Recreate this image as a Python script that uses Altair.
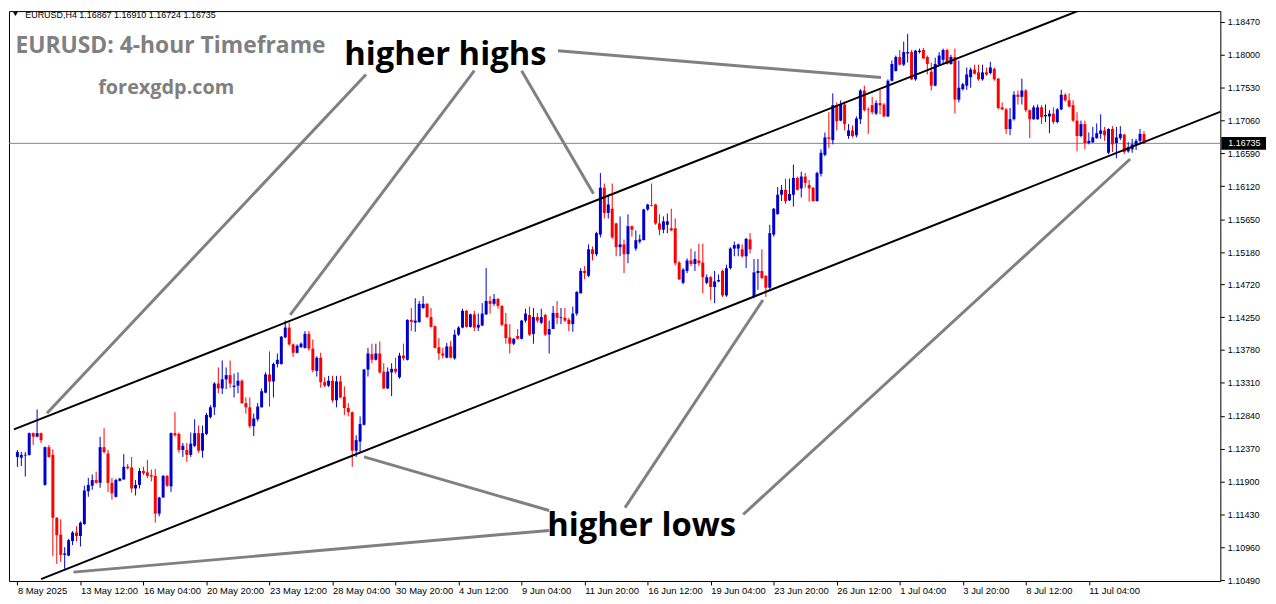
import json
import altair as alt
import pandas as pd

# ---------------- data (EURUSD H4 candles) ----------------
opens = [
    1.1225, 1.1224, 1.1227, 1.1228, 1.1259, 1.1254, 1.1259, 1.1185, 1.1239, 1.1228,
    1.1138, 1.1114, 1.1085, 1.1084, 1.1105, 1.1117, 1.1112, 1.1129, 1.1176, 1.1184,
    1.1192, 1.1188, 1.1239, 1.1230, 1.1188, 1.1168, 1.1191, 1.1193, 1.1211, 1.1210,
    1.1180, 1.1185, 1.1205, 1.1203, 1.1199, 1.1198, 1.1144, 1.1167, 1.1198, 1.1183,
    1.1259, 1.1258, 1.1235, 1.1235, 1.1228, 1.1241, 1.1259, 1.1234, 1.1258, 1.1282,
    1.1296, 1.1330, 1.1323, 1.1336, 1.1342, 1.1325, 1.1327, 1.1334, 1.1302, 1.1296,
    1.1269, 1.1279, 1.1296, 1.1317, 1.1343, 1.1333, 1.1358, 1.1358, 1.1396, 1.1410,
    1.1386, 1.1374, 1.1382, 1.1381, 1.1401, 1.1380, 1.1348, 1.1367, 1.1332, 1.1327,
    1.1334, 1.1306, 1.1333, 1.1311, 1.1295, 1.1289, 1.1234, 1.1247, 1.1271, 1.1350,
    1.1372, 1.1364, 1.1373, 1.1347, 1.1323, 1.1346, 1.1351, 1.1339, 1.1370, 1.1364,
    1.1421, 1.1417, 1.1418, 1.1438, 1.1444, 1.1425, 1.1412, 1.1382, 1.1373, 1.1367,
    1.1383, 1.1366, 1.1400, 1.1410, 1.1434, 1.1411, 1.1429, 1.1410, 1.1413, 1.1429,
    1.1448, 1.1444, 1.1451, 1.1441, 1.1415, 1.1396, 1.1387, 1.1398, 1.1394, 1.1420,
    1.1428, 1.1401, 1.1425, 1.1417, 1.1428, 1.1400, 1.1408, 1.1431, 1.1424, 1.1424,
    1.1421, 1.1415, 1.1430, 1.1459, 1.1491, 1.1484, 1.1522, 1.1515, 1.1543, 1.1610,
    1.1574, 1.1580, 1.1559, 1.1525, 1.1529, 1.1515, 1.1555, 1.1523, 1.1533, 1.1535,
    1.1579, 1.1585, 1.1586, 1.1559, 1.1550, 1.1557, 1.1552, 1.1552, 1.1503, 1.1474,
    1.1491, 1.1506, 1.1501, 1.1506, 1.1503, 1.1474, 1.1482, 1.1468, 1.1476, 1.1491,
    1.1456, 1.1495, 1.1523, 1.1523, 1.1522, 1.1512, 1.1536, 1.1455, 1.1488, 1.1491,
    1.1484, 1.1467, 1.1543, 1.1572, 1.1600, 1.1607, 1.1592, 1.1600, 1.1624, 1.1609,
    1.1626, 1.1614, 1.1610, 1.1591, 1.1630, 1.1657, 1.1682, 1.1678, 1.1728, 1.1706,
    1.1729, 1.1684, 1.1692, 1.1685, 1.1708, 1.1749, 1.1722, 1.1728, 1.1716, 1.1731,
    1.1729, 1.1712, 1.1763, 1.1777, 1.1797, 1.1786, 1.1802, 1.1804, 1.1765, 1.1804,
    1.1807, 1.1797, 1.1776, 1.1756, 1.1786, 1.1793, 1.1807, 1.1787, 1.1797, 1.1736,
    1.1751, 1.1756, 1.1768, 1.1779, 1.1775, 1.1765, 1.1775, 1.1774, 1.1780, 1.1766,
    1.1725, 1.1722, 1.1694, 1.1708, 1.1743, 1.1740, 1.1749, 1.1721, 1.1708, 1.1708,
    1.1725, 1.1712, 1.1712, 1.1716, 1.1704, 1.1722, 1.1743, 1.1735, 1.1728, 1.1706,
    1.1684, 1.1701, 1.1674, 1.1675, 1.1681, 1.1687, 1.1692, 1.1660, 1.1694, 1.1674,
    1.1681, 1.1686, 1.1662, 1.1665, 1.1671, 1.1677, 1.16867,
]
highs = [
    1.1235, 1.1232, 1.1232, 1.1260, 1.1260, 1.1293, 1.1260, 1.1240, 1.1242, 1.1236,
    1.1139, 1.1136, 1.1096, 1.1108, 1.1119, 1.1126, 1.1133, 1.1184, 1.1195, 1.1200,
    1.1204, 1.1254, 1.1266, 1.1235, 1.1195, 1.1194, 1.1195, 1.1229, 1.1215, 1.1225,
    1.1192, 1.1209, 1.1211, 1.1221, 1.1207, 1.1208, 1.1168, 1.1199, 1.1199, 1.1260,
    1.1289, 1.1260, 1.1245, 1.1245, 1.1260, 1.1279, 1.1270, 1.1270, 1.1288, 1.1299,
    1.1332, 1.1353, 1.1363, 1.1353, 1.1363, 1.1344, 1.1346, 1.1336, 1.1310, 1.1310,
    1.1287, 1.1302, 1.1323, 1.1346, 1.1376, 1.1360, 1.1373, 1.1398, 1.1420, 1.1417,
    1.1387, 1.1386, 1.1389, 1.1405, 1.1405, 1.1393, 1.1369, 1.1374, 1.1339, 1.1341,
    1.1341, 1.1341, 1.1341, 1.1326, 1.1302, 1.1290, 1.1256, 1.1283, 1.1351, 1.1381,
    1.1387, 1.1387, 1.1390, 1.1359, 1.1353, 1.1359, 1.1367, 1.1374, 1.1387, 1.1422,
    1.1438, 1.1452, 1.1448, 1.1455, 1.1445, 1.1438, 1.1413, 1.1395, 1.1381, 1.1388,
    1.1391, 1.1407, 1.1412, 1.1437, 1.1435, 1.1430, 1.1434, 1.1430, 1.1445, 1.1495,
    1.1455, 1.1458, 1.1452, 1.1442, 1.1431, 1.1415, 1.1395, 1.1408, 1.1421, 1.1437,
    1.1440, 1.1438, 1.1431, 1.1437, 1.1430, 1.1420, 1.1441, 1.1448, 1.1438, 1.1438,
    1.1424, 1.1440, 1.1462, 1.1495, 1.1498, 1.1529, 1.1526, 1.1547, 1.1631, 1.1616,
    1.1600, 1.1616, 1.1560, 1.1569, 1.1536, 1.1572, 1.1556, 1.1549, 1.1543, 1.1580,
    1.1587, 1.1616, 1.1587, 1.1572, 1.1569, 1.1573, 1.1580, 1.1566, 1.1505, 1.1495,
    1.1509, 1.1523, 1.1519, 1.1530, 1.1530, 1.1486, 1.1484, 1.1491, 1.1486, 1.1493,
    1.1500, 1.1525, 1.1533, 1.1530, 1.1529, 1.1538, 1.1545, 1.1508, 1.1508, 1.1522,
    1.1485, 1.1557, 1.1581, 1.1611, 1.1614, 1.1623, 1.1623, 1.1643, 1.1626, 1.1633,
    1.1631, 1.1621, 1.1611, 1.1633, 1.1665, 1.1689, 1.1718, 1.1745, 1.1732, 1.1735,
    1.1733, 1.1701, 1.1699, 1.1712, 1.1751, 1.1756, 1.1725, 1.1740, 1.1735, 1.1750,
    1.1731, 1.1765, 1.1792, 1.1799, 1.1807, 1.1819, 1.1830, 1.1807, 1.1807, 1.1809,
    1.1810, 1.1799, 1.1789, 1.1796, 1.1804, 1.1809, 1.1809, 1.1800, 1.1809, 1.1792,
    1.1760, 1.1782, 1.1782, 1.1786, 1.1786, 1.1786, 1.1782, 1.1790, 1.1782, 1.1767,
    1.1732, 1.1724, 1.1724, 1.1748, 1.1749, 1.1766, 1.1751, 1.1722, 1.1728, 1.1729,
    1.1728, 1.1729, 1.1721, 1.1725, 1.1724, 1.1750, 1.1745, 1.1745, 1.1735, 1.1718,
    1.1706, 1.1706, 1.1689, 1.1697, 1.1702, 1.1715, 1.1697, 1.1695, 1.1698, 1.1697,
    1.1698, 1.1687, 1.1675, 1.1680, 1.1680, 1.1694, 1.16910,
]
lows = [
    1.1211, 1.1212, 1.1197, 1.1227, 1.1242, 1.1253, 1.1245, 1.1184, 1.1224, 1.1083,
    1.1072, 1.1075, 1.1065, 1.1083, 1.1099, 1.1104, 1.1097, 1.1128, 1.1168, 1.1178,
    1.1187, 1.1181, 1.1230, 1.1175, 1.1164, 1.1167, 1.1190, 1.1192, 1.1207, 1.1174,
    1.1170, 1.1180, 1.1199, 1.1195, 1.1190, 1.1131, 1.1140, 1.1167, 1.1182, 1.1175,
    1.1254, 1.1231, 1.1225, 1.1218, 1.1225, 1.1239, 1.1231, 1.1224, 1.1256, 1.1280,
    1.1285, 1.1316, 1.1315, 1.1322, 1.1324, 1.1310, 1.1316, 1.1301, 1.1287, 1.1266,
    1.1255, 1.1276, 1.1296, 1.1316, 1.1297, 1.1310, 1.1353, 1.1357, 1.1395, 1.1384,
    1.1368, 1.1373, 1.1381, 1.1380, 1.1377, 1.1346, 1.1340, 1.1324, 1.1325, 1.1325,
    1.1303, 1.1296, 1.1309, 1.1285, 1.1283, 1.1211, 1.1225, 1.1232, 1.1270, 1.1340,
    1.1359, 1.1363, 1.1344, 1.1322, 1.1322, 1.1312, 1.1344, 1.1337, 1.1363, 1.1363,
    1.1405, 1.1404, 1.1417, 1.1437, 1.1424, 1.1410, 1.1380, 1.1364, 1.1366, 1.1366,
    1.1366, 1.1364, 1.1398, 1.1409, 1.1410, 1.1410, 1.1405, 1.1405, 1.1412, 1.1428,
    1.1430, 1.1441, 1.1437, 1.1412, 1.1387, 1.1373, 1.1385, 1.1393, 1.1393, 1.1417,
    1.1398, 1.1387, 1.1417, 1.1415, 1.1398, 1.1373, 1.1408, 1.1415, 1.1415, 1.1418,
    1.1405, 1.1404, 1.1427, 1.1459, 1.1479, 1.1482, 1.1506, 1.1512, 1.1539, 1.1566,
    1.1566, 1.1537, 1.1512, 1.1512, 1.1488, 1.1502, 1.1540, 1.1520, 1.1530, 1.1535,
    1.1577, 1.1583, 1.1557, 1.1542, 1.1545, 1.1545, 1.1548, 1.1499, 1.1478, 1.1472,
    1.1488, 1.1498, 1.1491, 1.1498, 1.1459, 1.1472, 1.1449, 1.1445, 1.1475, 1.1454,
    1.1454, 1.1493, 1.1512, 1.1512, 1.1510, 1.1495, 1.1516, 1.1452, 1.1464, 1.1479,
    1.1454, 1.1465, 1.1540, 1.1572, 1.1591, 1.1587, 1.1591, 1.1583, 1.1606, 1.1596,
    1.1610, 1.1590, 1.1590, 1.1590, 1.1626, 1.1655, 1.1667, 1.1672, 1.1692, 1.1705,
    1.1692, 1.1680, 1.1682, 1.1682, 1.1701, 1.1719, 1.1687, 1.1715, 1.1714, 1.1715,
    1.1711, 1.1711, 1.1762, 1.1776, 1.1785, 1.1784, 1.1789, 1.1764, 1.1763, 1.1802,
    1.1794, 1.1772, 1.1749, 1.1755, 1.1785, 1.1787, 1.1786, 1.1786, 1.1716, 1.1732,
    1.1749, 1.1750, 1.1753, 1.1772, 1.1763, 1.1763, 1.1770, 1.1772, 1.1763, 1.1722,
    1.1721, 1.1687, 1.1685, 1.1706, 1.1729, 1.1729, 1.1718, 1.1681, 1.1707, 1.1707,
    1.1701, 1.1704, 1.1688, 1.1701, 1.1702, 1.1721, 1.1733, 1.1725, 1.1704, 1.1662,
    1.1682, 1.1665, 1.1672, 1.1674, 1.1680, 1.1680, 1.1677, 1.1658, 1.1661, 1.1652,
    1.1678, 1.1658, 1.1660, 1.1660, 1.1664, 1.1672, 1.16724,
]
closes = [
    1.1232, 1.1228, 1.1228, 1.1259, 1.1254, 1.1259, 1.1249, 1.1239, 1.1225, 1.1138,
    1.1113, 1.1085, 1.1087, 1.1106, 1.1117, 1.1112, 1.1131, 1.1177, 1.1185, 1.1192,
    1.1188, 1.1239, 1.1232, 1.1188, 1.1173, 1.1192, 1.1194, 1.1211, 1.1209, 1.1180,
    1.1185, 1.1205, 1.1202, 1.1198, 1.1197, 1.1144, 1.1167, 1.1198, 1.1184, 1.1259,
    1.1256, 1.1235, 1.1241, 1.1228, 1.1244, 1.1259, 1.1234, 1.1259, 1.1285, 1.1296,
    1.1330, 1.1323, 1.1336, 1.1342, 1.1330, 1.1327, 1.1334, 1.1302, 1.1296, 1.1269,
    1.1280, 1.1297, 1.1319, 1.1343, 1.1333, 1.1358, 1.1364, 1.1397, 1.1410, 1.1386,
    1.1374, 1.1384, 1.1387, 1.1401, 1.1380, 1.1349, 1.1367, 1.1332, 1.1327, 1.1334,
    1.1306, 1.1333, 1.1310, 1.1295, 1.1289, 1.1234, 1.1249, 1.1272, 1.1350, 1.1373,
    1.1364, 1.1373, 1.1346, 1.1323, 1.1347, 1.1351, 1.1347, 1.1370, 1.1366, 1.1421,
    1.1418, 1.1420, 1.1444, 1.1444, 1.1425, 1.1411, 1.1381, 1.1373, 1.1370, 1.1383,
    1.1367, 1.1400, 1.1410, 1.1434, 1.1411, 1.1429, 1.1410, 1.1414, 1.1430, 1.1448,
    1.1444, 1.1451, 1.1441, 1.1414, 1.1395, 1.1387, 1.1394, 1.1394, 1.1420, 1.1430,
    1.1400, 1.1425, 1.1420, 1.1425, 1.1400, 1.1408, 1.1431, 1.1424, 1.1425, 1.1420,
    1.1415, 1.1430, 1.1461, 1.1491, 1.1488, 1.1522, 1.1515, 1.1545, 1.1610, 1.1574,
    1.1586, 1.1539, 1.1525, 1.1529, 1.1515, 1.1555, 1.1550, 1.1535, 1.1536, 1.1579,
    1.1586, 1.1584, 1.1559, 1.1550, 1.1562, 1.1562, 1.1549, 1.1502, 1.1479, 1.1493,
    1.1506, 1.1501, 1.1508, 1.1502, 1.1482, 1.1482, 1.1468, 1.1476, 1.1478, 1.1456,
    1.1495, 1.1523, 1.1528, 1.1529, 1.1512, 1.1537, 1.1522, 1.1489, 1.1491, 1.1481,
    1.1467, 1.1545, 1.1580, 1.1600, 1.1607, 1.1591, 1.1601, 1.1624, 1.1607, 1.1626,
    1.1617, 1.1609, 1.1591, 1.1631, 1.1660, 1.1682, 1.1680, 1.1728, 1.1705, 1.1729,
    1.1701, 1.1692, 1.1684, 1.1709, 1.1749, 1.1721, 1.1721, 1.1718, 1.1731, 1.1728,
    1.1712, 1.1763, 1.1787, 1.1797, 1.1786, 1.1804, 1.1804, 1.1765, 1.1806, 1.1806,
    1.1795, 1.1787, 1.1756, 1.1787, 1.1799, 1.1807, 1.1787, 1.1797, 1.1736, 1.1753,
    1.1758, 1.1772, 1.1779, 1.1773, 1.1765, 1.1775, 1.1772, 1.1782, 1.1765, 1.1724,
    1.1722, 1.1694, 1.1708, 1.1743, 1.1740, 1.1749, 1.1721, 1.1708, 1.1725, 1.1725,
    1.1711, 1.1714, 1.1716, 1.1704, 1.1722, 1.1743, 1.1735, 1.1726, 1.1706, 1.1684,
    1.1701, 1.1674, 1.1677, 1.1682, 1.1688, 1.1692, 1.1685, 1.1694, 1.1672, 1.1682,
    1.1687, 1.1661, 1.1668, 1.1672, 1.1677, 1.1687, 1.16735,
]
assert len(opens) == len(highs) == len(lows) == len(closes), (len(opens), len(highs), len(lows), len(closes))

# time axis (bar index of each label) and labels
tick_positions = [0, 16, 32, 48, 64, 80, 96, 112, 128, 144, 160, 176, 192, 208, 224, 240, 256, 272]
tick_labels = ["8 May 2025", "13 May 12:00", "16 May 04:00", "20 May 20:00", "23 May 12:00",
               "28 May 04:00", "30 May 20:00", "4 Jun 12:00", "9 Jun 04:00", "11 Jun 20:00",
               "16 Jun 12:00", "19 Jun 04:00", "23 Jun 20:00", "26 Jun 12:00", "1 Jul 04:00",
               "3 Jul 20:00", "8 Jul 12:00", "11 Jul 04:00"]
price_ticks = [1.10490, 1.10960, 1.11430, 1.11900, 1.12370, 1.12840, 1.13310, 1.13780, 1.14250,
               1.14720, 1.15180, 1.15650, 1.16120, 1.16590, 1.17060, 1.17530, 1.18000, 1.18470]
last_price = 1.16735

# channel trend lines (bar index, price)
chan_name = ["upper", "upper", "lower", "lower"]
chan_x = [-0.875, 272.0, 6.0, 306.25]
chan_y = [1.12645, 1.18689, 1.10504, 1.17206]

# grey pointer lines (bar index, price)
seg_x1 = [88.5, 116.0, 128.0, 137.25, 135.0, 135.0, 154.25, 184.25]
seg_y1 = [1.17718, 1.17774, 1.17774, 1.18058, 1.11484, 1.11200, 1.11526, 1.11427]
seg_x2 = [7.5, 69.25, 146.25, 219.25, 88.0, 14.25, 189.25, 282.5]
seg_y2 = [1.12875, 1.14281, 1.16014, 1.17675, 1.12251, 1.10603, 1.14494, 1.16511]

# annotation texts (bar index, price)
big_text = ["higher highs", "higher lows"]
big_x = [83.0, 134.5]
big_y = [1.1786, 1.11115]
head_text = "EURUSD,H4  1.16867 1.16910 1.16724 1.16735"
head_x, head_y = 2.0, 1.18527
mark_x, mark_y = -0.5, 1.18584
brand1_text, brand1_x, brand1_y = "EURUSD: 4-hour Timeframe", -0.5, 1.1803
brand2_text, brand2_x, brand2_y = "forexgdp.com", 20.5, 1.17434

# ---------------- chart ----------------
W, H = 1220, 574
BLUE, RED = "#0000cd", "#ff0000"
FONT = "Liberation Sans"

xs = alt.Scale(domain=[-0.875, 304.125], nice=False, zero=False)
ys = alt.Scale(domain=[1.10476, 1.18626], nice=False, zero=False)

label_expr = json.dumps(tick_labels) + "[round(datum.value / 16)]"
x_axis = alt.Axis(values=tick_positions, labelExpr=label_expr, grid=False, domain=False,
                  ticks=True, tickSize=4, tickColor="black", labelAlign="left",
                  labelBaseline="top", labelPadding=1, labelFont=FONT, labelFontSize=9.5,
                  labelColor="black", title=None, labelFlush=False, labelOverlap=False)
y_axis = alt.Axis(orient="right", values=price_ticks, format=".5f", grid=False, domain=False,
                  ticks=True, tickSize=4, tickColor="black", labelPadding=3, labelFont=FONT,
                  labelFontSize=9, labelColor="black", title=None, labelFlush=False,
                  labelOverlap=False)


def X(field):
    return alt.X(field, scale=xs, axis=x_axis, title=None)


def Y(field):
    return alt.Y(field, scale=ys, axis=y_axis, title=None)


df = pd.DataFrame({"i": list(range(len(opens))), "o": opens, "h": highs, "l": lows, "c": closes})
col = alt.condition("datum.c > datum.o", alt.value(BLUE), alt.value(RED))

price_df = pd.DataFrame({"p": [last_price], "t": [f"{last_price:.5f}"]})
price_line = alt.Chart(price_df).mark_rule(color="#778899", strokeWidth=1).encode(y=Y("p:Q"))

wicks = alt.Chart(df).mark_rule(strokeWidth=1).encode(
    x=X("i:Q"), y=Y("l:Q"), y2="h:Q", color=col)

bodies = alt.Chart(df).mark_bar(width=3).encode(
    x=X("i:Q"), y=Y("o:Q"), y2="c:Q", color=col)

chan_df = pd.DataFrame({"name": chan_name, "x": chan_x, "y": chan_y})
channel = alt.Chart(chan_df).mark_line(color="black", strokeWidth=2, clip=True).encode(
    x=X("x:Q"), y=Y("y:Q"), detail="name:N")

seg_df = pd.DataFrame({"x1": seg_x1, "y1": seg_y1, "x2": seg_x2, "y2": seg_y2})
pointers = alt.Chart(seg_df).mark_rule(color="#808080", strokeWidth=3).encode(
    x=X("x1:Q"), x2="x2:Q", y=Y("y1:Q"), y2="y2:Q")

big_df = pd.DataFrame({"t": big_text, "x": big_x, "y": big_y})
big_labels = alt.Chart(big_df).mark_text(
    font="Open Sans", fontWeight="bold", fontSize=33, color="black",
    align="left", baseline="alphabetic").encode(x=X("x:Q"), y=Y("y:Q"), text="t:N")


def text_layer(txt, x, y, **kw):
    d = pd.DataFrame({"t": [txt], "x": [x], "y": [y]})
    return alt.Chart(d).mark_text(align="left", baseline="alphabetic", **kw).encode(
        x=X("x:Q"), y=Y("y:Q"), text="t:N")


header = text_layer(head_text, head_x, head_y, font=FONT, fontSize=9, color="black")
brand1 = text_layer(brand1_text, brand1_x, brand1_y, font="Open Sans", fontWeight="bold",
                    fontSize=23, color="#808080")
brand2 = text_layer(brand2_text, brand2_x, brand2_y, font="Open Sans", fontWeight="bold",
                    fontSize=20, color="#808080")

tri_df = pd.DataFrame({"x": [mark_x], "y": [mark_y]})
tri = alt.Chart(tri_df).mark_point(shape="triangle-down", filled=True, color="black",
                                   size=22, opacity=1).encode(x=X("x:Q"), y=Y("y:Q"))

price_box = alt.Chart(price_df).mark_rect(color="black", height=13).encode(
    x=alt.value(W + 1), x2=alt.value(W + 46), y=Y("p:Q"))
price_text = alt.Chart(price_df).mark_text(color="white", font=FONT, fontSize=9,
                                           align="left", baseline="middle").encode(
    x=alt.value(W + 8), y=Y("p:Q"), text="t:N")

chart = alt.layer(
    price_line, wicks, bodies, channel, pointers, big_labels,
    header, tri, brand1, brand2, price_box, price_text
).properties(
    width=W, height=H,
    padding={"left": 0, "top": 0, "right": 2, "bottom": 2},
    background="white",
).configure_view(stroke="black", strokeWidth=1, fill="white")

chart.save("out.html", embed_options={"renderer": "svg", "actions": False})
